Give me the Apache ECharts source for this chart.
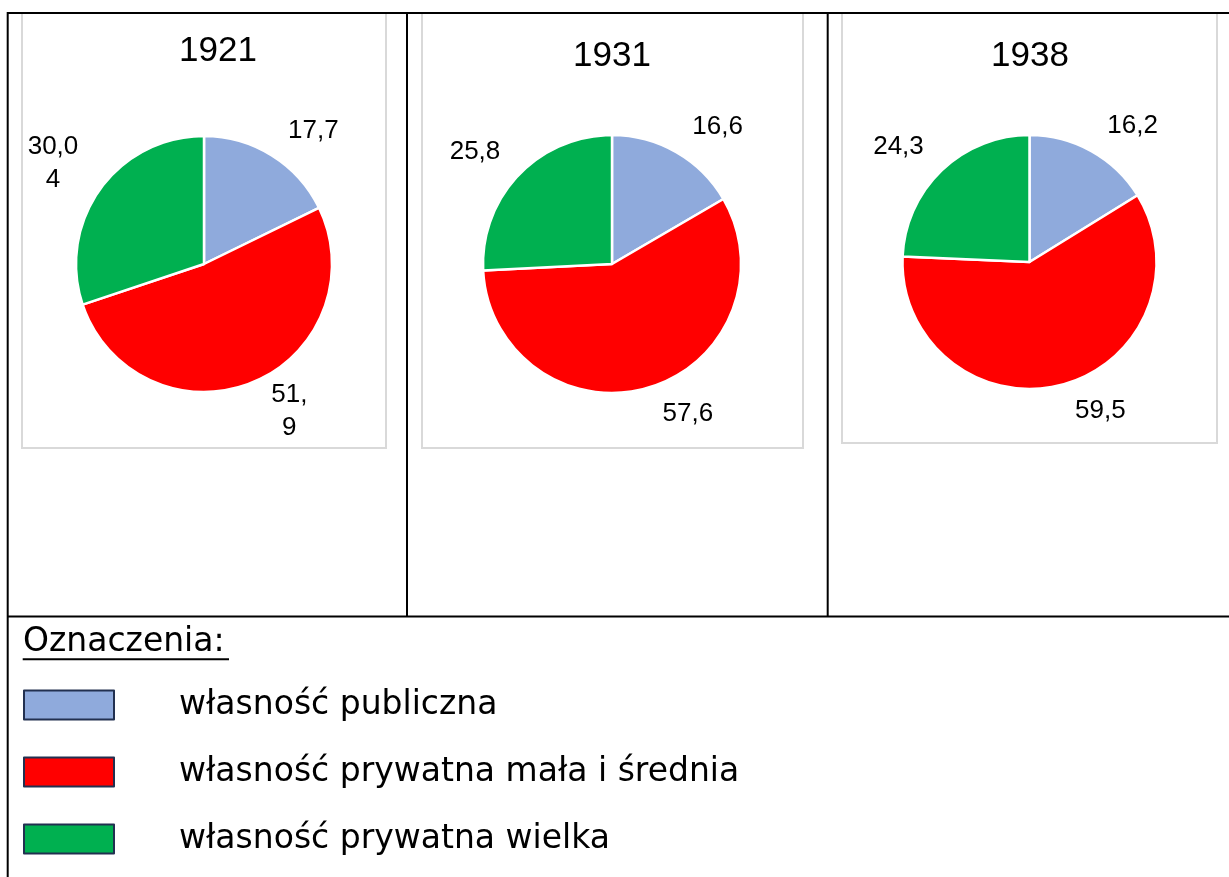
<!DOCTYPE html>
<html><head><meta charset="utf-8">
<script src="https://cdn.jsdelivr.net/npm/echarts@6/dist/echarts.min.js"></script>
<style>html,body{margin:0;padding:0;background:#fff}#c{width:1229px;height:877px}</style>
</head><body><div id="c"></div>
<script>
// ---- data ----
const years = ['1921', '1931', '1938'];
const categories = ['własność publiczna', 'własność prywatna mała i średnia', 'własność prywatna wielka'];
const values1921 = [17.7, 51.9, 30.04];
const values1931 = [16.6, 57.6, 25.8];
const values1938 = [16.2, 59.5, 24.3];
const legendTitle = 'Oznaczenia:';

// ---- style / layout ----
const colors = ['#8faadc', '#ff0000', '#00b050'];
const seriesValues = [values1921, values1931, values1938];
const pieCenters = [[204, 264], [612, 264], [1029.5, 262]];
const pieRadii = [128, 129, 127];
const titlePos = [[218, 51], [612, 56], [1030, 56]];
const boxes = [[22, 13, 364, 435], [422, 13, 381, 435], [842, 13, 375, 430]];
const wrapWidths = [[null, 44, 56], [null, null, null], [null, null, null]];

function labelLayoutFor(si) {
  return function (p) {
    const vals = seriesValues[si];
    const total = vals.reduce((a, b) => a + b, 0);
    let acc = 0;
    for (let i = 0; i < p.dataIndex; i++) acc += vals[i];
    const mid = (acc + vals[p.dataIndex] / 2) / total * 2 * Math.PI;
    const dx = Math.sin(mid), dy = -Math.cos(mid);
    const c = pieCenters[si];
    const R = pieRadii[si] + 10;
    const w = p.labelRect.width, h = p.labelRect.height;
    return {
      x: c[0] + dx * R + Math.sign(dx) * (w / 2 + 11),
      y: c[1] + dy * R + Math.sign(dy) * Math.min(h / 2, 20),
      align: 'center', verticalAlign: 'middle'
    };
  };
}

const series = seriesValues.map((vals, si) => ({
  type: 'pie',
  name: years[si],
  center: pieCenters[si],
  radius: pieRadii[si],
  startAngle: 90,
  clockwise: true,
  avoidLabelOverlap: false,
  silent: true,
  itemStyle: { borderColor: '#ffffff', borderWidth: 2.5 },
  label: {
    show: true, position: 'outside', color: '#000',
    fontFamily: 'Liberation Sans', fontSize: 26, lineHeight: 33,
    formatter: (p) => String(p.value).replace('.', ',')
  },
  labelLine: { show: false },
  labelLayout: labelLayoutFor(si),
  data: vals.map((v, i) => {
    const item = { name: categories[i], value: v, itemStyle: { color: colors[i] } };
    if (wrapWidths[si][i]) item.label = { width: wrapWidths[si][i], overflow: 'breakAll' };
    return item;
  })
}));

const graphics = [];
boxes.forEach(b => graphics.push({
  type: 'rect', z: 0, shape: { x: b[0], y: b[1], width: b[2], height: b[3] },
  style: { fill: 'none', stroke: '#d9d9d9', lineWidth: 2 }
}));
const tableLines = [
  [7, 13, 1229, 13], [7.7, 12, 7.7, 877], [407, 13, 407, 617], [827.7, 13, 827.7, 617], [7, 616.5, 1229, 616.5]
];
tableLines.forEach(l => graphics.push({
  type: 'line', z: 1, shape: { x1: l[0], y1: l[1], x2: l[2], y2: l[3] },
  style: { stroke: '#000', lineWidth: 2 }
}));
graphics.push({
  type: 'text', z: 1, style: {
    text: legendTitle, x: 23, y: 642, verticalAlign: 'middle', align: 'left',
    font: '33px "DejaVu Sans"', fill: '#000'
  }
});
graphics.push({
  type: 'line', z: 1, shape: { x1: 22.7, y1: 659.3, x2: 229, y2: 659.3 },
  style: { stroke: '#000', lineWidth: 2 }
});

const option = {
  animation: false,
  backgroundColor: '#fff',
  title: years.map((y, i) => ({
    text: y, left: titlePos[i][0], top: titlePos[i][1], textAlign: 'center', textVerticalAlign: 'middle',
    padding: 0,
    textStyle: { fontFamily: 'Liberation Sans', fontSize: 35, fontWeight: 'normal', color: '#000' }
  })),
  legend: {
    orient: 'vertical', left: 23, top: 682, padding: 0,
    itemWidth: 90, itemHeight: 29, itemGap: 21, icon: 'rect', selectedMode: false,
    data: categories,
    itemStyle: { borderColor: '#223050', borderWidth: 2 },
    textStyle: { fontFamily: 'DejaVu Sans', fontSize: 33, color: '#000', lineHeight: 29, padding: [17, 0, 0, 60] }
  },
  graphic: graphics,
  series: series
};

const chart = echarts.init(document.getElementById('c'), null, { renderer: 'canvas' });
chart.setOption(option);
</script>
</body></html>
